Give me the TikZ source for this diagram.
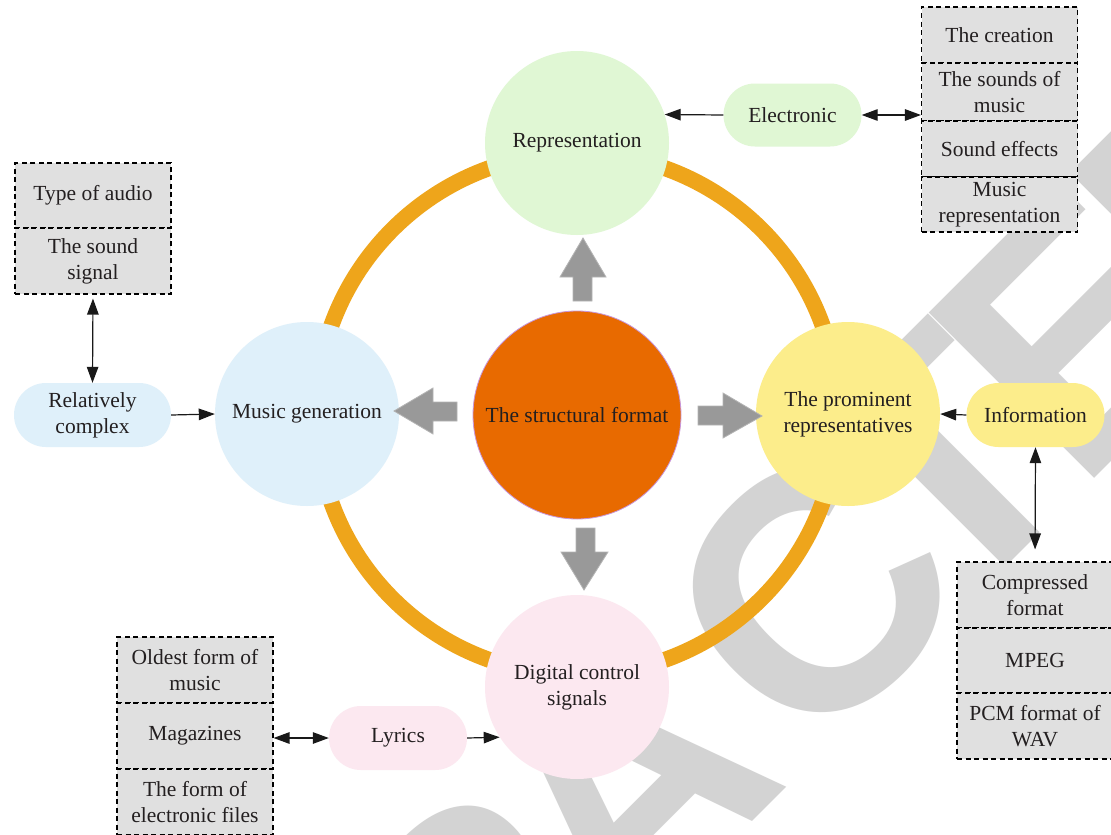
\documentclass[tikz,border=0pt]{standalone}
\usepackage{fontspec}
\setmainfont{Liberation Serif}
\newfontfamily\wmfont{Liberation Sans}
\usetikzlibrary{arrows.meta}
\definecolor{ringc}{RGB}{238,165,27}
\definecolor{corec}{RGB}{232,106,0}
\definecolor{corebd}{RGB}{200,150,220}
\definecolor{greenc}{RGB}{224,247,212}
\definecolor{bluec}{RGB}{223,240,250}
\definecolor{yellc}{RGB}{252,237,139}
\definecolor{pinkc}{RGB}{252,232,240}
\definecolor{boxc}{RGB}{224,224,224}
\definecolor{blockc}{RGB}{153,153,153}
\definecolor{blockbd}{RGB}{180,180,180}
\definecolor{wmc}{RGB}{211,211,211}
\definecolor{txt}{RGB}{35,31,32}
\tikzset{
  every node/.style={font=\fontsize{21.5pt}{26pt}\selectfont, text=txt},
  mainc/.style={circle, minimum size=184pt, inner sep=0pt, align=center},
  pill/.style={rounded corners=31.5pt, minimum width=138pt, minimum height=63pt, inner sep=0pt, align=center},
  cell/.style={draw=black, fill=boxc, dash pattern=on 5pt off 3.5pt, line width=1.1pt,
               minimum width=156pt, inner sep=0pt, align=center},
  tip/.style={Triangle[length=16pt,width=11.5pt]},
  conn/.style={line width=1.2pt, draw=black!90, -{Triangle[length=16pt,width=11.5pt]}},
  dconn/.style={line width=1.2pt, draw=black!90, {Triangle[length=16pt,width=11.5pt]}-{Triangle[length=16pt,width=11.5pt]}},
  blockarrow/.style={fill=blockc, draw=blockbd, line width=0.8pt},
  ring/.style={line width=16pt, draw=ringc},
  wm/.style={inner sep=0pt, text=wmc, font=\fontsize{340pt}{340pt}\wmfont\bfseries}
}
\begin{document}
\begin{tikzpicture}[x=1pt, y=-1pt]
\useasboundingbox (0,0) rectangle (1111,835);
\clip (0,0) rectangle (1111,835);
\fill[white] (0,0) rectangle (1111,835);
% watermark
\begin{scope}[shift={(813,595)}, rotate=45, transform shape]
  \node[wm] (wmR) at (-480,0) {R};
  \node[wm] (wmA) at (-268,0) {A};
  \node[wm] (wmC) at (0,0) {C};
  \node[wm] (wmT) at (180,0) {T};
  \node[wm] (wmE) at (372,0) {E};
  \node[wm] (wmD) at (580,0) {D};
\end{scope}
% ring
\draw[ring] (577,414) circle[radius=261pt];
% main circles
\node[mainc, fill=greenc] (repr) at (577,143) {Representation};
\node[mainc, fill=bluec] (music) at (307,414) {Music generation};
\node[mainc, fill=yellc] (prom) at (848,414) {The prominent\\representatives};
\node[mainc, fill=pinkc] (dig) at (577,687) {Digital control\\signals};
\node[circle, minimum size=208pt, inner sep=0pt, fill=corec, draw=corebd, line width=0.8pt] (core) at (577,415) {The structural format};
% block arrows
\draw[blockarrow] (573,301) -- (573,277) -- (560,277) -- (583,238) -- (606,277) -- (592,277) -- (592,301) -- cycle;
\draw[blockarrow] (457,402) -- (433,402) -- (433,388) -- (394,411) -- (433,434) -- (433,421) -- (457,421) -- cycle;
\draw[blockarrow] (698,406) -- (723,406) -- (723,393) -- (762,416) -- (723,438) -- (723,425) -- (698,425) -- cycle;
\draw[blockarrow] (576,528) -- (595,528) -- (595,552) -- (608,552) -- (584,590) -- (561,552) -- (576,552) -- cycle;
% pills
\node[pill, fill=greenc] (elec) at (792.5,115) {Electronic};
\node[pill, fill=bluec, minimum width=157pt, minimum height=64pt, rounded corners=32pt] (relc) at (92.5,415) {Relatively\\complex};
\node[pill, fill=yellc, minimum height=64pt, rounded corners=32pt] (info) at (1035.5,415) {Information};
\node[pill, fill=pinkc, minimum height=64pt, rounded corners=32pt] (lyr) at (398,738) {Lyrics};
% top-right stack
\node[cell, minimum height=56pt] (tr1) at (999.5,35) {The creation};
\node[cell, minimum height=58pt] (tr2) at (999.5,92) {The sounds of\\music};
\node[cell, minimum height=56pt] (tr3) at (999.5,149) {Sound effects};
\node[cell, minimum height=55pt] (tr4) at (999.5,204.5) {Music\\representation};
% top-left stack
\node[cell, minimum height=65pt] (tl1) at (93,195.5) {Type of audio};
\node[cell, minimum height=66pt] (tl2) at (93,261) {The sound\\signal};
% bottom-left stack
\node[cell, minimum height=66pt] (bl1) at (195,670) {Oldest form of\\music};
\node[cell, minimum height=66pt] (bl2) at (195,736) {Magazines};
\node[cell, minimum height=66pt] (bl3) at (195,802) {The form of\\electronic files};
% bottom-right stack
\node[cell, minimum height=66pt] (br1) at (1035,595) {Compressed\\format};
\node[cell, minimum height=65pt] (br2) at (1035,660.5) {MPEG};
\node[cell, minimum height=66pt] (br3) at (1035,726) {PCM format of\\WAV};
% connectors
\draw[conn] (elec.west) -- (repr.18);
\draw[dconn] (elec.east) -- (elec.east -| tr2.west);
\draw[dconn, shorten <=4pt] (tl2.south) -- (relc.north);
\draw[conn] (relc.east) -- (music.west);
\draw[conn] (info.west) -- (prom.east);
\draw[dconn, shorten >=12pt] (info.south) -- (br1.north);
\draw[dconn] (bl2.east |- lyr.west) -- (lyr.west);
\draw[conn] (lyr.east) -- (dig.213);
\end{tikzpicture}
\end{document}
